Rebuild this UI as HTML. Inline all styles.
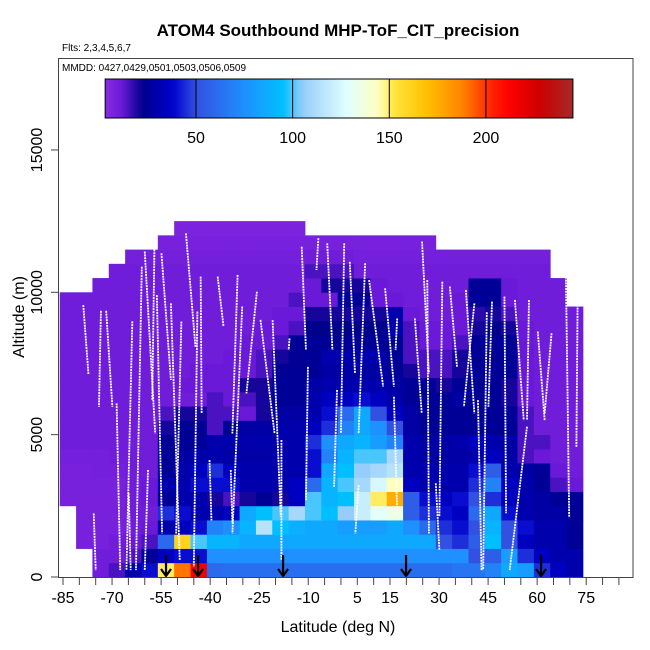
<!DOCTYPE html>
<html><head><meta charset="utf-8"><style>
html,body{margin:0;padding:0;background:#fff;}
svg{display:block;font-family:"Liberation Sans",sans-serif;}
</style></head><body>
<svg id="chart" width="650" height="650" viewBox="0 0 650 650">
<text x="338" y="36" text-anchor="middle" font-size="17" font-weight="bold">ATOM4 Southbound MHP-ToF_CIT_precision</text>
<text x="62" y="51" font-size="10">Flts: 2,3,4,5,6,7</text>
<g id="heat"></g>
<g id="tracks"></g>
<g id="arrows"></g>
<rect x="58.5" y="58.5" width="574.5" height="519" fill="none" stroke="#444" stroke-width="1"/>
<text x="62" y="71" font-size="10">MMDD: 0427,0429,0501,0503,0506,0509</text>
<defs><linearGradient id="cbg" x1="0" x2="1" y1="0" y2="0"></linearGradient></defs>
<g id="cbar"></g>
<g id="xaxis"></g>
<g id="yaxis"></g>
<text x="338" y="632" text-anchor="middle" font-size="16">Latitude (deg N)</text>
<text transform="translate(24,317) rotate(-90)" text-anchor="middle" font-size="16">Altitude (m)</text>
</svg>
<script>
const latStart=-86, latStep=5, altStep=500;
const row0=[0,0,10,15,30,40,150,190,215,60,62,62,62,62,62,62,62,62,62,62,62,62,62,62,65,65,70,85,80,45,35,30];
const row1=[0,0,10,10,15,25,35,40,40,75,75,75,75,75,75,75,75,75,75,75,75,75,75,75,75,50,55,80,45,35,30,30];
const row2=[0,8,8,10,12,15,60,160,100,90,90,85,85,85,85,85,85,85,85,85,85,85,85,50,45,55,95,50,35,30,30,25];
const row3=[0,8,8,8,10,12,30,35,40,70,75,90,115,95,88,85,85,80,80,80,85,75,60,45,40,50,90,50,40,30,30,25];
const row4=[0,8,8,8,10,10,45,40,30,30,35,85,95,100,110,100,95,105,120,130,135,55,45,40,35,60,85,40,30,28,28,25];
const row5=[8,8,8,8,10,12,25,30,30,20,15,20,25,20,35,100,90,95,120,150,175,55,40,35,40,50,45,35,30,28,25,25];
const row6=[8,8,8,8,10,12,30,30,40,40,40,30,30,30,35,60,90,100,110,125,145,35,30,30,30,45,70,35,30,25,15,12];
const row7=[8,8,9,9,10,10,25,30,35,45,35,30,30,30,30,40,85,95,105,110,115,30,30,30,30,40,55,30,28,25,12,10];
const row8=[9,9,9,10,10,10,25,28,30,30,28,28,28,30,30,40,70,90,100,100,110,30,28,28,28,30,35,28,15,12,10,10];
const row9=[10,10,10,10,10,10,25,25,25,30,30,30,30,30,30,45,75,85,90,80,70,30,28,28,30,35,30,28,15,15,10,10];
const row10=[10,10,10,10,10,10,20,25,25,15,25,28,28,30,30,35,45,70,85,75,50,28,25,25,25,25,25,25,15,10,10,10];
const row11=[10,10,10,10,10,10,15,20,20,15,15,12,20,28,28,30,40,60,85,50,35,28,25,25,25,25,25,25,15,10,10,10];
const row12=[10,10,10,10,10,10,10,10,10,15,12,15,20,25,25,30,35,35,40,35,30,25,25,25,28,25,25,20,12,10,10,10];
const row13=[10,10,10,10,10,10,10,12,12,12,12,20,20,25,25,28,30,30,30,30,28,25,25,20,25,25,25,20,12,10,10,10];
const row14=[10,10,10,10,10,10,10,10,12,12,12,12,15,25,25,25,28,28,28,28,25,20,15,15,20,25,25,25,12,10,10,10];
const row15=[10,10,10,10,10,10,10,10,10,10,12,12,15,20,25,25,30,30,30,30,25,15,15,15,20,25,25,25,12,10,10,10];
const row16=[10,10,10,10,10,10,10,10,10,10,10,12,12,15,25,25,25,25,25,25,25,15,12,12,15,25,25,25,12,10,10,10];
const row17=[10,10,10,10,10,10,10,10,10,10,10,10,12,12,15,22,22,22,22,22,30,15,12,12,12,20,22,20,12,10,10,10];
const row18=[10,10,10,10,10,10,10,10,10,10,10,10,10,12,12,20,20,20,20,20,30,12,10,10,12,18,20,15,10,10,10,10];
const row19=[10,10,10,10,10,10,10,10,10,10,10,10,10,10,15,12,12,25,25,12,12,10,10,10,12,25,25,12,10,10,10,0];
const row20=[0,0,10,10,10,10,10,10,10,10,10,10,10,10,10,12,20,20,20,12,10,10,10,10,10,25,25,12,10,10,10,0];
const row21=[0,0,0,10,10,10,10,10,10,10,10,10,10,10,10,15,15,15,10,10,10,10,10,10,10,10,10,10,10,10,0,0];
const row22=[0,0,0,0,9,9,9,9,9,9,9,9,9,9,9,10,10,10,9,9,9,9,9,9,9,9,9,9,9,9,0,0];
const row23=[0,0,0,0,0,0,8,8,8,8,8,8,8,8,8,8,8,8,8,8,8,8,8,0,0,0,0,0,0,0,0,0];
const row24=[0,0,0,0,0,0,0,7,7,7,7,7,7,7,7,0,0,0,0,0,0,0,0,0,0,0,0,0,0,0,0,0];
const rows=[row0,row1,row2,row3,row4,row5,row6,row7,row8,row9,row10,row11,row12,row13,row14,row15,row16,row17,row18,row19,row20,row21,row22,row23,row24];
const trackTopLat=[-78.8,-71.8,-73.4,-63.8,-60.9,-60,-56.3,-57,-54.9,-52,-48.8,-47.4,-43.9,-42.9,-37.7,-31.6,-25.7,-30.2,-24.6,-20.9,-15.7,-12,-6.9,-4.2,1,2.7,7.4,8.6,13.5,17.2,22.6,24.8,26.4,31,33.3,38.2,40.8,46.2,50,53.2,57.5,60.2,64.4,68.7,72.5,56.9,44.6,29,41.9,5.4,-18.2,-10.1,-1.2,16.2,-40.2,-33.7,-59,-68.6,-75.6,-64.9];
const trackTopAlt=[9550,9350,9350,8980,10900,11430,9900,11900,11370,9610,8970,12070,9320,10550,10550,10610,10020,9500,9030,9020,8380,11600,11900,11720,11720,11070,11020,10430,10140,9080,9080,11780,10430,10370,10200,10080,9610,9670,9850,9730,9730,8620,8560,11430,11430,5280,9300,3290,6210,3220,4810,7380,6570,6330,4110,3760,3760,6100,2230,2940];
const trackBotLat=[-77.2,-69.9,-74,-65.6,-62.7,-56.8,-54.7,-57.7,-52,-49.3,-50.4,-44.5,-45,-42.6,-35.9,-33.2,-28.9,-33.2,-20.3,-18.4,-16,-10.7,-7.5,-2.6,0,4.3,5.4,12.9,16.2,16.7,24.7,26.9,26.9,30.1,35.5,40.8,37.6,45.1,50.5,55.9,56.9,62.3,62.3,69.8,72,51.6,43.5,30.1,43,4.4,-18.2,-10.7,-2.1,17.2,-39.6,-33.2,-60,-67.5,-75,-64.3];
const trackBotAlt=[7100,5980,5980,240,240,5040,1530,6220,6920,600,1530,8090,360,5750,8790,5040,6450,1530,5040,2120,7970,7970,10780,7970,5040,7150,5040,6690,6690,7970,5750,7150,1530,2120,7380,5750,5980,5980,2240,5510,5510,5510,5750,2120,4570,240,240,940,240,1530,590,2700,3170,2240,1990,1880,240,240,240,240];
const arrowLats=[-53.5,-43.7,-17.7,19.9,61.2];
const cbTicks=[50,100,150,200];
const xTickLabels=[-85,-70,-55,-40,-25,-10,5,15,30,45,60,75];
const yTickLabels=[0,5000,10000,15000];

const NS='http://www.w3.org/2000/svg';
const X=lat=>63+(lat+85)*3.27;
const Y=alt=>577-alt*0.02847;
const CBX=v=>196+(v-50)*1.933;
const cstops=[[3,[138,43,226]],[12,[105,25,215]],[22,[0,0,139]],[38,[0,0,205]],[50,[50,80,225]],[75,[30,144,255]],[95,[0,191,255]],[105,[150,205,250]],[128,[224,255,255]],[145,[255,255,190]],[152,[255,230,60]],[170,[255,190,0]],[188,[255,130,0]],[202,[255,40,0]],[212,[255,0,0]],[228,[205,0,0]],[245,[165,42,42]]];
function col(v){
  if(v<=cstops[0][0]) return 'rgb('+cstops[0][1]+')';
  for(let i=1;i<cstops.length;i++){ if(v<=cstops[i][0]){const a=cstops[i-1],b=cstops[i];const t=(v-a[0])/(b[0]-a[0]);return 'rgb('+a[1].map((c,j)=>Math.round(c+(b[1][j]-c)*t)).join(',')+')';}}
  return 'rgb('+cstops[cstops.length-1][1]+')';
}
function mk(tag,attrs,parent){const e=document.createElementNS(NS,tag);for(const k in attrs)e.setAttribute(k,attrs[k]);parent.appendChild(e);return e;}
const heat=document.getElementById('heat');
rows.forEach((r,ri)=>{r.forEach((v,ci)=>{ if(!v) return;
  const l0=latStart+ci*latStep, a0=ri*altStep;
  const e=mk('rect',{x:X(l0).toFixed(2),y:Y(a0+altStep).toFixed(2),width:(X(l0+latStep)-X(l0)+0.4).toFixed(2),height:(Y(a0)-Y(a0+altStep)+0.4).toFixed(2),fill:col(v)},heat);
  
  
});});
const tr=document.getElementById('tracks');
trackTopLat.forEach((l,i)=>{
  const e=mk('line',{x1:X(l),y1:Y(trackTopAlt[i]),x2:X(trackBotLat[i]),y2:Y(trackBotAlt[i]),stroke:'#fff','stroke-width':1.8,'stroke-dasharray':'2 0.8'},tr);
  
  
});
const ar=document.getElementById('arrows');
arrowLats.forEach(l=>{const x=X(l);
  const g=mk('path',{d:`M${x},555 L${x},576 M${x-5},569 L${x},576 L${x+5},569`,stroke:'#000','stroke-width':2.2,fill:'none'},ar);
  
  
});
const grad=document.getElementById('cbg');
for(let v=3;v<=245;v+=4){mk('stop',{offset:((v-3)/242).toFixed(4),'stop-color':col(v)},grad);}
const cb=document.getElementById('cbar');
const cbr=mk('rect',{x:CBX(3),y:79,width:CBX(245)-CBX(3),height:39,fill:'url(#cbg)',stroke:'#000','stroke-width':1},cb);


cbTicks.forEach(v=>{
  const ln=mk('line',{x1:CBX(v),x2:CBX(v),y1:79,y2:118,stroke:'#000','stroke-width':1},cb);
  
  
  const t=mk('text',{x:CBX(v),y:143,'text-anchor':'middle','font-size':16},cb);t.textContent=v;
  
  
});
const xa=document.getElementById('xaxis');
for(let l=-85;l<=85;l+=5){const e=mk('line',{x1:X(l),x2:X(l),y1:578,y2:585,stroke:'#444'},xa);
  
  }
xTickLabels.forEach(l=>{const t=mk('text',{x:X(l),y:603,'text-anchor':'middle','font-size':16},xa);t.textContent=l;
  
  });
const ya=document.getElementById('yaxis');
yTickLabels.forEach(a=>{const y=Y(a);
  const e=mk('line',{x1:51,x2:58,y1:y,y2:y,stroke:'#444'},ya);
  
  
  const t=mk('text',{transform:`translate(42,${y}) rotate(-90)`,'text-anchor':'middle','font-size':16},ya);t.textContent=a;
  
  });
</script>
</body></html>
